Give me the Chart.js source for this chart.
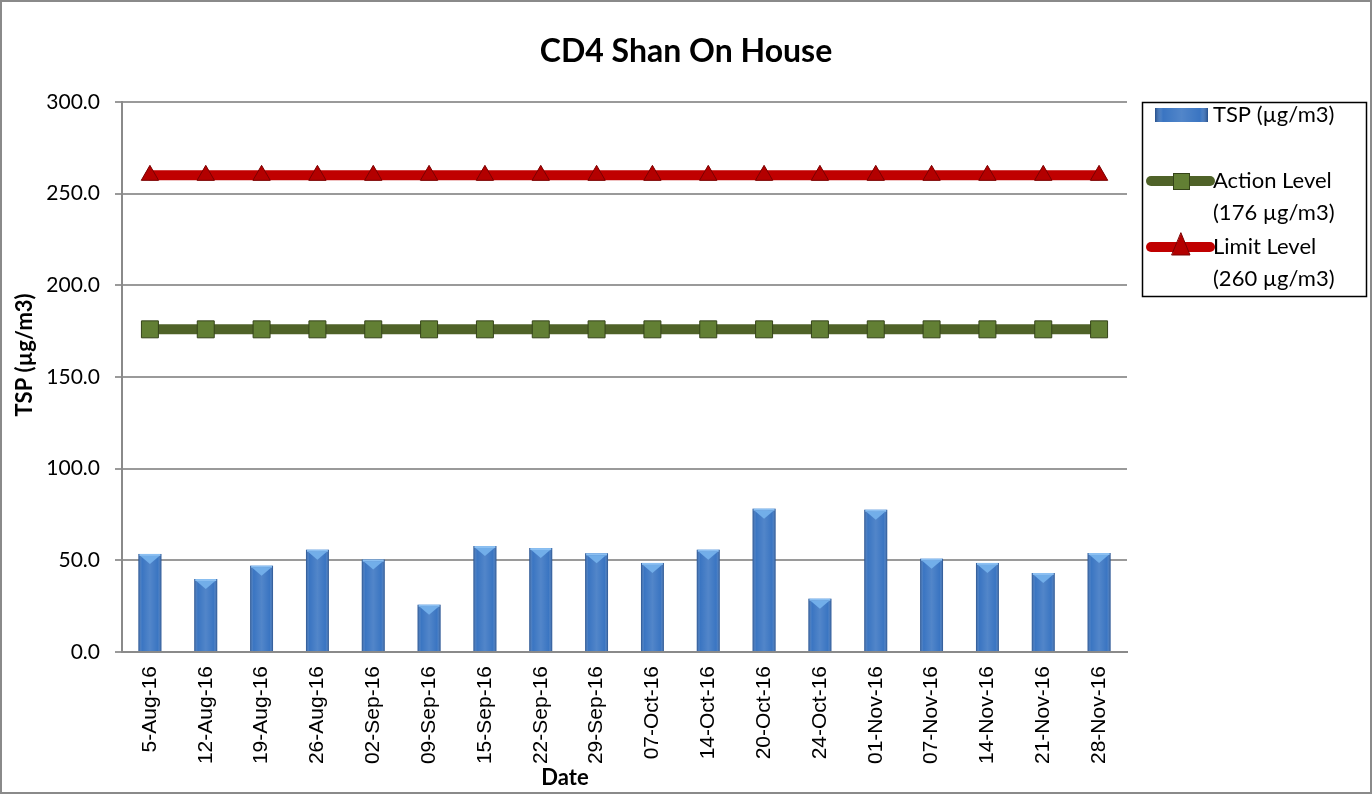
<!DOCTYPE html>
<html>
<head>
<meta charset="utf-8">
<script src="https://cdn.jsdelivr.net/npm/chart.js@4/dist/chart.umd.min.js"></script>
<style>
html, body { margin: 0; padding: 0; background: #fff; }
#wrap { width: 1372px; height: 794px; position: relative; }
</style>
</head>
<body>
<div id="wrap"><canvas id="chart"></canvas></div>
<script>
const dates = ["5-Aug-16", "12-Aug-16", "19-Aug-16", "26-Aug-16", "02-Sep-16", "09-Sep-16",
  "15-Sep-16", "22-Sep-16", "29-Sep-16", "07-Oct-16", "14-Oct-16", "20-Oct-16",
  "24-Oct-16", "01-Nov-16", "07-Nov-16", "14-Nov-16", "21-Nov-16", "28-Nov-16"];
const tsp = [53.5, 39.8, 47.1, 55.8, 50.4, 25.8, 57.8, 56.7, 53.8, 48.6, 55.8, 78.2,
  29.1, 77.6, 50.9, 48.6, 43.1, 54.0];
const actionLevel = [176, 176, 176, 176, 176, 176, 176, 176, 176, 176, 176, 176, 176, 176, 176, 176, 176, 176];
const limitLevel = [260, 260, 260, 260, 260, 260, 260, 260, 260, 260, 260, 260, 260, 260, 260, 260, 260, 260];
const yTicks = [0, 50, 100, 150, 200, 250, 300];

const chartTitle = "CD4 Shan On House";
const xTitle = "Date";
const yTitle = "TSP (µg/m3)";
const legendItems = [
  { kind: "bar", lines: ["TSP (µg/m3)"] },
  { kind: "action", lines: ["Action Level", "(176 µg/m3)"] },
  { kind: "limit", lines: ["Limit Level", "(260 µg/m3)"] },
];

const mainFont = "Lato, 'Liberation Sans', sans-serif";
const blue = "#3a75c2";
const green = "#4f6228";
const red = "#c00000";

function bevelBar(ctx, left, top, w, bottom) {
  const g = ctx.createLinearGradient(left, 0, left + w, 0);
  g.addColorStop(0, "rgba(10,30,70,0.45)");
  g.addColorStop(0.15, "rgba(255,255,255,0)");
  g.addColorStop(0.5, "rgba(255,255,255,0.12)");
  g.addColorStop(0.85, "rgba(255,255,255,0)");
  g.addColorStop(1, "rgba(10,30,70,0.45)");
  ctx.fillStyle = g;
  ctx.fillRect(left, top, w, bottom - top);
}

// 3d look on the bars
const barLook = {
  id: "barLook",
  afterDatasetDraw(chart, args) {
    if (args.index !== 0) return;
    const ctx = chart.ctx;
    ctx.save();
    args.meta.data.forEach((bar) => {
      const left = bar.x - bar.width / 2;
      bevelBar(ctx, left, bar.y, bar.width, bar.base);
      ctx.fillStyle = "#8cc0f2";
      ctx.fillRect(left + 1, bar.y, bar.width - 2, 2);
      ctx.beginPath();
      ctx.moveTo(left + 2, bar.y + 2);
      ctx.lineTo(left + bar.width - 2, bar.y + 2);
      ctx.lineTo(bar.x, bar.y + 10);
      ctx.closePath();
      ctx.fillStyle = "#72aee9";
      ctx.fill();
    });
    ctx.restore();
  },
};

// titles, legend box, outer frame
const decor = {
  id: "decor",
  afterDraw(chart) {
    const ctx = chart.ctx;
    ctx.save();
    ctx.strokeStyle = "#8a8a8a";
    ctx.lineWidth = 2;
    ctx.strokeRect(1, 1, chart.width - 2, chart.height - 2);

    ctx.fillStyle = "#000";
    ctx.textAlign = "center";
    ctx.textBaseline = "middle";
    ctx.font = "bold 32px " + mainFont;
    ctx.fillText(chartTitle, chart.width / 2, 52);

    ctx.font = "bold 22px " + mainFont;
    ctx.fillText(xTitle, 565, 778);
    ctx.save();
    ctx.translate(25, 355);
    ctx.rotate(-Math.PI / 2);
    ctx.fillText(yTitle, 0, 0);
    ctx.restore();

    const bx = 1142, by = 102, bw = 224, bh = 194;
    ctx.strokeStyle = "#000";
    ctx.lineWidth = 1.5;
    ctx.strokeRect(bx + 0.5, by + 0.5, bw, bh);

    ctx.font = "22px " + mainFont;
    ctx.textAlign = "left";
    const rows = [115, 181, 247];
    legendItems.forEach((item, i) => {
      const y = rows[i];
      if (item.kind === "bar") {
        ctx.fillStyle = blue;
        ctx.fillRect(1155, y - 7, 53, 14);
        bevelBar(ctx, 1155, y - 7, 53, y + 7);
      } else {
        ctx.strokeStyle = item.kind === "action" ? green : red;
        ctx.lineWidth = 10;
        ctx.lineCap = "round";
        ctx.beginPath();
        ctx.moveTo(1151, y);
        ctx.lineTo(1210, y);
        ctx.stroke();
        if (item.kind === "action") {
          ctx.fillStyle = "#627f34";
          ctx.strokeStyle = "#354419";
          ctx.lineWidth = 1;
          ctx.fillRect(1173, y - 8, 17, 17);
          ctx.strokeRect(1173.5, y - 7.5, 16, 16);
        } else {
          ctx.fillStyle = "#b30000";
          ctx.strokeStyle = "#7a0000";
          ctx.lineWidth = 1;
          ctx.beginPath();
          ctx.moveTo(1181, y - 14);
          ctx.lineTo(1190, y + 8);
          ctx.lineTo(1172, y + 8);
          ctx.closePath();
          ctx.fill();
          ctx.stroke();
        }
      }
      ctx.fillStyle = "#000";
      item.lines.forEach((t, j) => ctx.fillText(t, 1213, y + j * 32));
    });
    ctx.restore();
  },
};

const ctx = document.getElementById("chart").getContext("2d");
const myChart = new Chart(ctx, {
  data: {
    labels: dates,
    datasets: [
      {
        type: "bar",
        label: "TSP (µg/m3)",
        data: tsp,
        backgroundColor: blue,
        borderWidth: 0,
        barPercentage: 0.82,
        categoryPercentage: 0.5,
        order: 3,
      },
      {
        type: "line",
        label: "Action Level (176 µg/m3)",
        data: actionLevel,
        borderColor: green,
        borderWidth: 10,
        borderCapStyle: "round",
        pointStyle: "rect",
        pointRadius: 12,
        pointBackgroundColor: "#627f34",
        pointBorderColor: "#354419",
        pointBorderWidth: 1,
        order: 2,
      },
      {
        type: "line",
        label: "Limit Level (260 µg/m3)",
        data: limitLevel,
        borderColor: red,
        borderWidth: 10,
        borderCapStyle: "round",
        pointStyle: "triangle",
        pointRadius: 10,
        pointBackgroundColor: "#b30000",
        pointBorderColor: "#7a0000",
        pointBorderWidth: 1,
        order: 1,
      },
    ],
  },
  options: {
    responsive: true,
    maintainAspectRatio: false,
    animation: false,
    layout: { padding: { top: 102, right: 245, left: 0, bottom: 0 } },
    plugins: {
      legend: { display: false },
      title: { display: false },
      tooltip: { enabled: false },
    },
    scales: {
      x: {
        grid: { display: false },
        border: { color: "#8a8a8a", width: 2 },
        ticks: {
          maxRotation: 90,
          minRotation: 90,
          color: "#000",
          padding: 6,
          font: { family: "'Liberation Sans', Arial, sans-serif", size: 21 },
        },
        afterFit(scale) { scale.height = 142; },
      },
      y: {
        min: 0,
        max: 300,
        afterBuildTicks(scale) { scale.ticks = yTicks.map((v) => ({ value: v })); },
        grid: { color: "#9a9a9a", lineWidth: 2, tickLength: 7, drawTicks: true },
        border: { color: "#8a8a8a", width: 2 },
        ticks: {
          color: "#000",
          padding: 15,
          font: { family: mainFont, size: 21 },
          callback: (v) => Number(v).toFixed(1),
        },
        afterFit(scale) { scale.width = 122; },
      },
    },
  },
  plugins: [barLook, decor],
});
</script>
</body>
</html>
